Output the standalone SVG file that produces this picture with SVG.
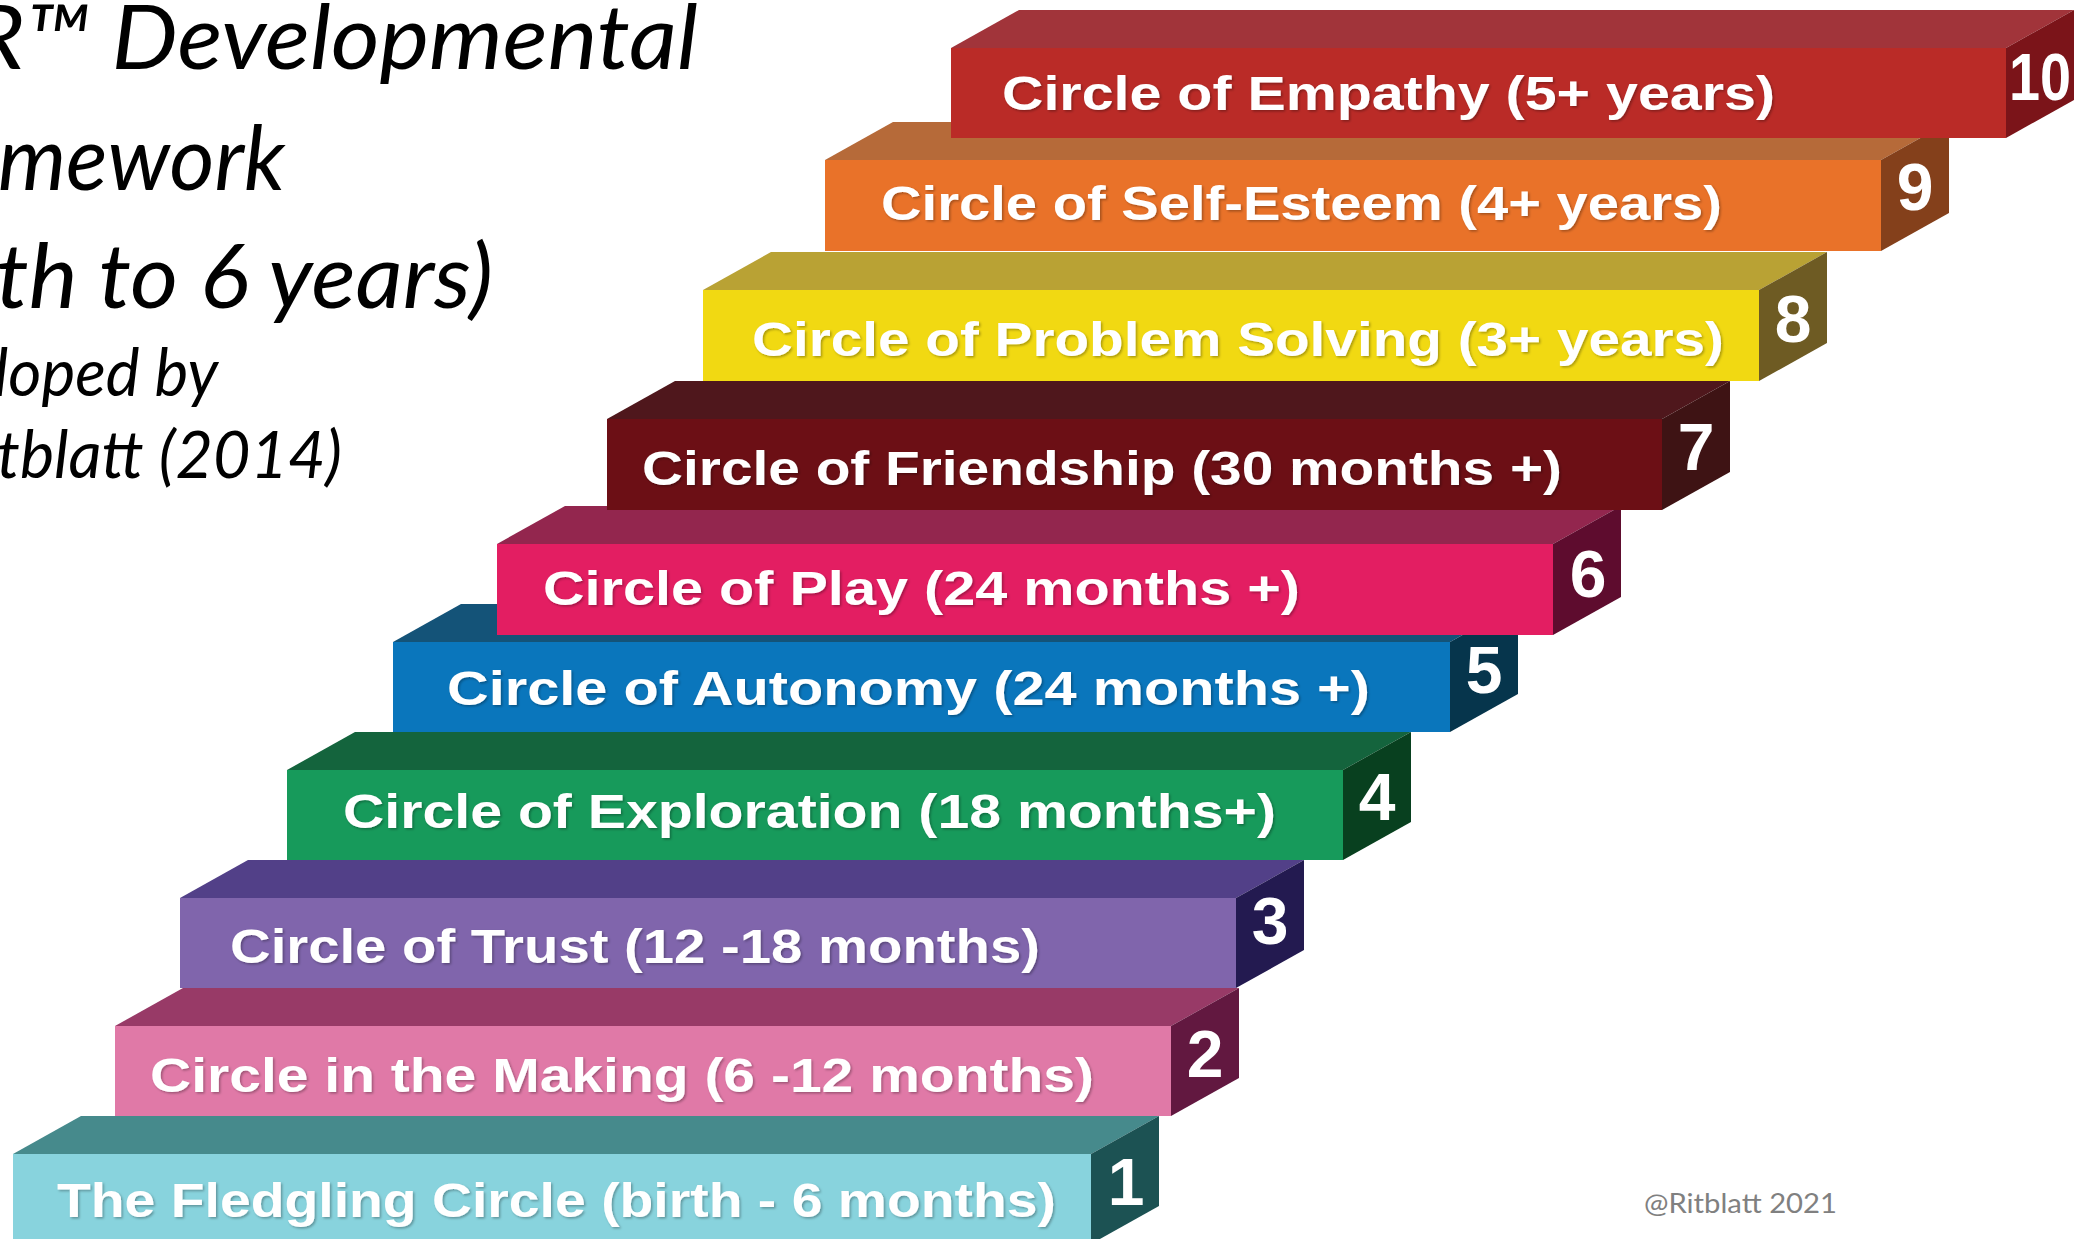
<svg xmlns="http://www.w3.org/2000/svg" width="2084" height="1239" viewBox="0 0 2084 1239">
<defs>
<style>
.title{font-family:Lato,"Liberation Sans",sans-serif;font-style:italic;fill:#000;}
.t1{font-size:90px;}
.t2{font-size:66px;}
.lbl{font-family:"Liberation Sans",Arial,sans-serif;font-weight:bold;font-size:48px;fill:#fff;filter:url(#sh);}
.num{font-family:"Liberation Sans",Arial,sans-serif;font-weight:bold;font-size:66px;fill:#fff;text-anchor:middle;}
.wm{font-family:Lato,"Liberation Sans",sans-serif;font-size:26px;fill:#808080;}
</style>
<filter id="sh" x="-5%" y="-30%" width="110%" height="160%">
<feDropShadow dx="1.5" dy="1.5" stdDeviation="1" flood-color="#000" flood-opacity="0.3"/>
</filter>
</defs>
<rect width="2084" height="1239" fill="#fff"/>
<g id="title">
<text class="title t1" x="698" y="69" text-anchor="end" textLength="728" lengthAdjust="spacingAndGlyphs">R™ Developmental</text>
<text class="title t1" x="285" y="190" text-anchor="end" textLength="287" lengthAdjust="spacingAndGlyphs">mework</text>
<text class="title t1" x="493" y="308" text-anchor="end" textLength="497" lengthAdjust="spacingAndGlyphs">th to 6 years)</text>
<text class="title t2" x="218" y="396" text-anchor="end" textLength="224" lengthAdjust="spacingAndGlyphs">loped by</text>
<text class="title t2" x="342" y="478" text-anchor="end" textLength="345" lengthAdjust="spacingAndGlyphs">tblatt (2014)</text>
</g>
<g id="connectors"></g>
<g id="step1">
<path d="M13,1154 L81,1116 L1159,1116 L1091,1154 Z" fill="#468A8C"/>
<path d="M1091,1154 L1159,1116 L1159,1206 L1091,1244 Z" fill="#1C5253"/>
<rect x="13" y="1154" width="1078" height="90" fill="#88D3DD"/>
<text class="lbl" x="57" y="1217" textLength="999" lengthAdjust="spacingAndGlyphs">The Fledgling Circle (birth - 6 months)</text>
<text class="num" x="1126" y="1205">1</text>
</g>
<g id="step2">
<path d="M115,1026 L183,988 L1239,988 L1171,1026 Z" fill="#983A67"/>
<path d="M1171,1026 L1239,988 L1239,1078 L1171,1116 Z" fill="#621840"/>
<rect x="115" y="1026" width="1056" height="90" fill="#E079A7"/>
<text class="lbl" x="150" y="1092" textLength="944" lengthAdjust="spacingAndGlyphs">Circle in the Making (6 -12 months)</text>
<text class="num" x="1205" y="1077">2</text>
</g>
<g id="step3">
<path d="M180,898 L248,860 L1304,860 L1236,898 Z" fill="#524088"/>
<path d="M1236,898 L1304,860 L1304,950 L1236,988 Z" fill="#231A50"/>
<rect x="180" y="898" width="1056" height="90" fill="#8065AC"/>
<text class="lbl" x="230" y="963" textLength="810" lengthAdjust="spacingAndGlyphs">Circle of Trust (12 -18 months)</text>
<text class="num" x="1270" y="944">3</text>
</g>
<g id="step4">
<path d="M287,770 L355,732 L1411,732 L1343,770 Z" fill="#14643D"/>
<path d="M1343,770 L1411,732 L1411,822 L1343,860 Z" fill="#08401F"/>
<rect x="287" y="770" width="1056" height="90" fill="#179A5B"/>
<text class="lbl" x="343" y="828" textLength="933" lengthAdjust="spacingAndGlyphs">Circle of Exploration (18 months+)</text>
<text class="num" x="1377" y="820">4</text>
</g>
<g id="step5">
<path d="M393,642 L461,604 L1518,604 L1450,642 Z" fill="#145378"/>
<path d="M1450,642 L1518,604 L1518,694 L1450,732 Z" fill="#06354C"/>
<rect x="393" y="642" width="1057" height="90" fill="#0A76BC"/>
<text class="lbl" x="447" y="705" textLength="923" lengthAdjust="spacingAndGlyphs">Circle of Autonomy (24 months +)</text>
<text class="num" x="1484" y="693">5</text>
</g>
<g id="step6">
<path d="M497,544 L565,506 L1621,506 L1553,544 Z" fill="#93264E"/>
<path d="M1553,544 L1621,506 L1621,597 L1553,635 Z" fill="#5E0C2E"/>
<rect x="497" y="544" width="1056" height="91" fill="#E31E62"/>
<text class="lbl" x="543" y="605" textLength="757" lengthAdjust="spacingAndGlyphs">Circle of Play (24 months +)</text>
<text class="num" x="1588" y="597">6</text>
</g>
<g id="step7">
<path d="M607,419 L675,381 L1730,381 L1662,419 Z" fill="#4F171C"/>
<path d="M1662,419 L1730,381 L1730,472 L1662,510 Z" fill="#3E1314"/>
<rect x="607" y="419" width="1055" height="91" fill="#6C0F15"/>
<text class="lbl" x="642" y="485" textLength="920" lengthAdjust="spacingAndGlyphs">Circle of Friendship (30 months +)</text>
<text class="num" x="1696" y="470">7</text>
</g>
<g id="step8">
<path d="M703,290 L771,252 L1827,252 L1759,290 Z" fill="#B9A234"/>
<path d="M1759,290 L1827,252 L1827,343 L1759,381 Z" fill="#6E5B23"/>
<rect x="703" y="290" width="1056" height="91" fill="#F1D912"/>
<text class="lbl" x="752" y="356" textLength="972" lengthAdjust="spacingAndGlyphs">Circle of Problem Solving (3+ years)</text>
<text class="num" x="1793" y="342">8</text>
</g>
<g id="step9">
<path d="M825,160 L893,122 L1949,122 L1881,160 Z" fill="#B66A39"/>
<path d="M1881,160 L1949,122 L1949,213 L1881,251 Z" fill="#84401B"/>
<rect x="825" y="160" width="1056" height="91" fill="#E97229"/>
<text class="lbl" x="881" y="220" textLength="841" lengthAdjust="spacingAndGlyphs">Circle of Self-Esteem (4+ years)</text>
<text class="num" x="1915" y="210">9</text>
</g>
<g id="step10">
<path d="M951,48 L1019,10 L2074,10 L2006,48 Z" fill="#A1343A"/>
<path d="M2006,48 L2074,10 L2074,100 L2006,138 Z" fill="#7B1419"/>
<rect x="951" y="48" width="1055" height="90" fill="#BA2B27"/>
<text class="lbl" x="1002" y="110" textLength="773" lengthAdjust="spacingAndGlyphs">Circle of Empathy (5+ years)</text>
<text class="num" x="2040" y="100" textLength="62" lengthAdjust="spacingAndGlyphs">10</text>
</g>
<text class="wm" x="1644" y="1213" textLength="193" lengthAdjust="spacingAndGlyphs">@Ritblatt 2021</text>
</svg>
